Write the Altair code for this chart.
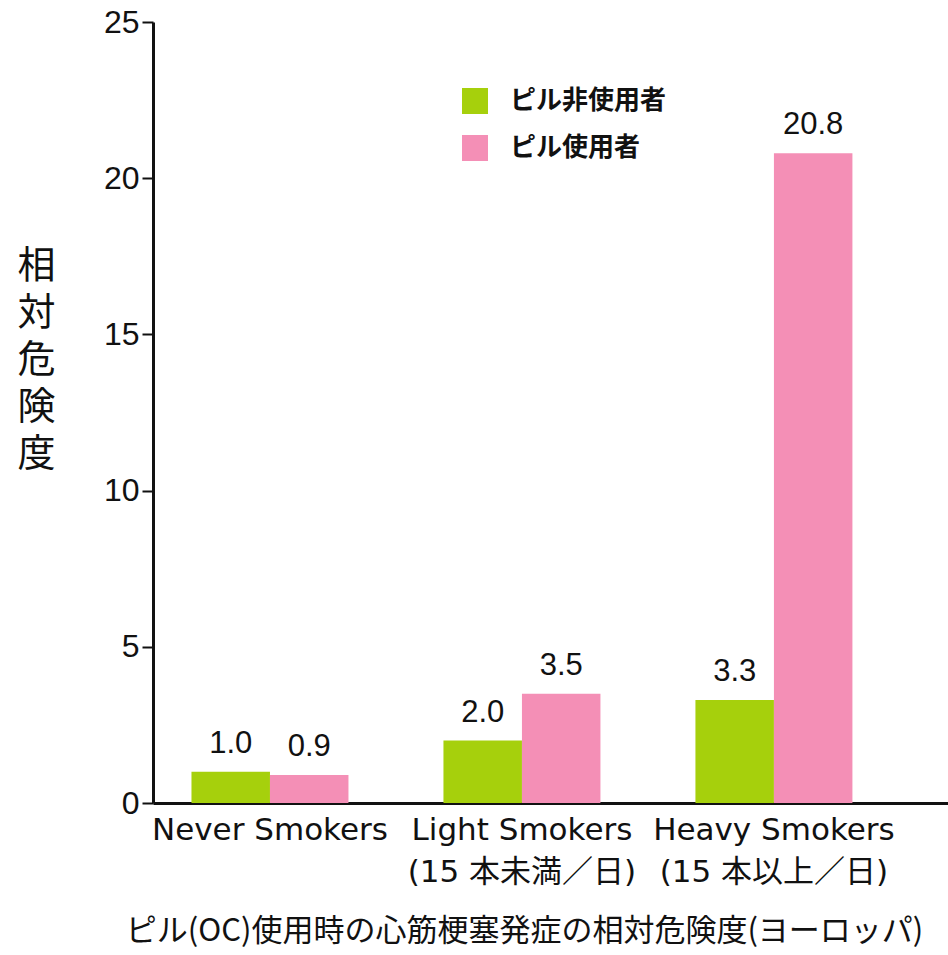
import altair as alt
import pandas as pd

# Smoking groups (second line of each label after the newline)
groups = [
    "Never Smokers",
    "Light Smokers\n(15 本未満／日)",
    "Heavy Smokers\n(15 本以上／日)",
]
series = ["ピル非使用者", "ピル使用者"]
non_users = [1.0, 2.0, 3.3]
users = [0.9, 3.5, 20.8]
y_ticks = [0, 5, 10, 15, 20, 25]
colors = ["#a6d00c", "#f48fb6"]

rows = []
for g, a, b in zip(groups, non_users, users):
    rows.append({"group": g, "series": series[0], "value": a})
    rows.append({"group": g, "series": series[1], "value": b})
df = pd.DataFrame(rows)

LATIN = "Liberation Sans, Noto Sans CJK JP"
WIDE = "DejaVu Sans, Noto Sans CJK JP"
CJK = "Noto Sans CJK JP"

x_enc = alt.X(
    "group:N",
    sort=groups,
    scale=alt.Scale(paddingInner=0.377, paddingOuter=0.266, align=0.287),
    axis=alt.Axis(
        labelExpr="split(datum.label, '\\n')",
        labelAngle=0,
        labelFont=WIDE,
        labelFontSize=31,
        labelColor="#111111",
        labelLineHeight=42,
        labelPadding=12,
        labelBaseline="top",
        labelLimit=0,
        labelOverlap=False,
        ticks=False,
        domainColor="#111111",
        domainWidth=3,
        title="ピル(OC)使用時の心筋梗塞発症の相対危険度(ヨーロッパ)",
        titleFont=CJK,
        titleFontSize=31,
        titleFontWeight="normal",
        titleColor="#111111",
        titleX=371,
        titleY=128,
        titleAlign="center",
        titleBaseline="middle",
        titleAnchor="start",
        titleLimit=0,
    ),
)
x_off = alt.XOffset(
    "series:N", sort=series, scale=alt.Scale(paddingInner=0, paddingOuter=0)
)
y_enc = alt.Y(
    "value:Q",
    scale=alt.Scale(domain=[0, 25], nice=False),
    axis=alt.Axis(
        values=y_ticks,
        grid=False,
        labelFont=LATIN,
        labelFontSize=32,
        labelColor="#111111",
        labelPadding=3,
        tickSize=11,
        tickWidth=2,
        tickColor="#111111",
        domainColor="#111111",
        domainWidth=3,
        title=["相", "対", "危", "険", "度"],
        titleAngle=0,
        titleFont=CJK,
        titleFontSize=38,
        titleFontWeight="normal",
        titleColor="#111111",
        titleLineHeight=47,
        titleX=-117,
        titleY=225,
        titleAlign="center",
        titleBaseline="top",
    ),
)

bars = alt.Chart(df).mark_bar().encode(
    x=x_enc,
    xOffset=x_off,
    y=y_enc,
    color=alt.Color(
        "series:N",
        sort=series,
        scale=alt.Scale(domain=series, range=colors),
        legend=alt.Legend(
            title=None,
            orient="none",
            legendX=309,
            legendY=66,
            symbolType="square",
            symbolSize=676,
            symbolStrokeWidth=0,
            symbolOpacity=1,
            labelFont=CJK,
            labelFontSize=26,
            labelFontWeight="bold",
            labelColor="#111111",
            labelOffset=22,
            rowPadding=21,
        ),
    ),
)

labels = alt.Chart(df).mark_text(
    font=LATIN, fontSize=31, color="#111111", baseline="bottom", dy=-12
).encode(
    x=alt.X("group:N", sort=groups),
    xOffset=alt.XOffset("series:N", sort=series),
    y="value:Q",
    text=alt.Text("value:Q", format=".1f"),
)

chart = (
    alt.layer(bars, labels)
    .properties(
        width=795,
        height=781,
        autosize=alt.AutoSizeParams(type="none"),
        padding={"left": 153, "top": 22, "right": 0, "bottom": 152},
        background="white",
    )
    .configure_view(stroke=None)
)

chart.save("out.html", embed_options={"renderer": "svg", "actions": False})
